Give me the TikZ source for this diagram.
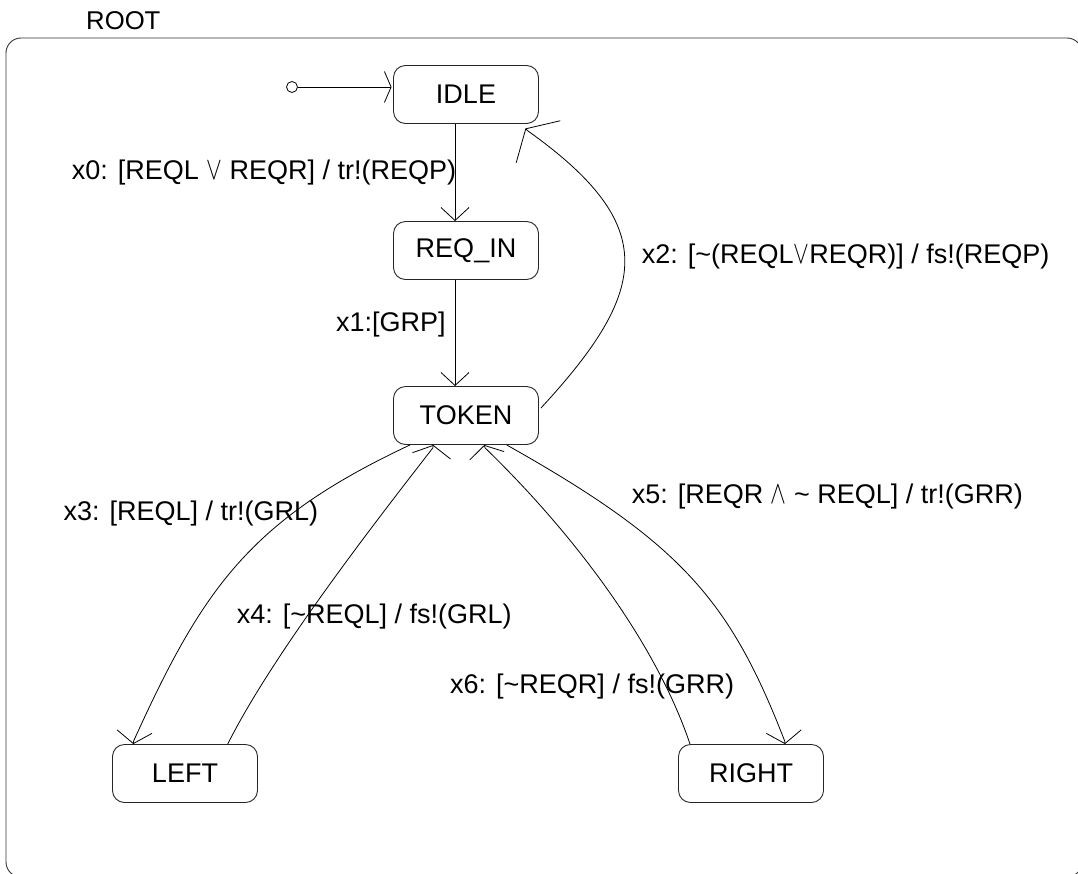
\documentclass[tikz,border=0pt]{standalone}
\usepackage{fontspec}
\setmainfont{Liberation Sans}
\usepackage{graphicx}
\usetikzlibrary{arrows.meta,calc}
\newcommand{\orsym}{\scalebox{0.95}[1.3]{$\vee$}}
\newcommand{\andsym}{\scalebox{0.95}[1.3]{$\wedge$}}
\newcommand{\tld}{\textasciitilde}
\begin{document}
\begin{tikzpicture}[x=1pt,y=-1pt,
  every node/.style={font=\fontsize{27}{30}\selectfont},
  stbox/.style={draw=black!85, line width=0.9pt, rounded corners=12pt, minimum width=145pt, minimum height=58pt, inner sep=0pt},
  lbl/.style={anchor=base west, inner sep=0pt},
  tr/.style={draw, line width=0.8pt},
  arr/.style 2 args={-{Straight Barb[length=#1pt,width=#2pt]}}
]
\useasboundingbox (0,0) rectangle (1078,873);
\begin{scope}
\clip (0,0) rectangle (1078,873);
\draw[draw=black!80, line width=0.9pt, rounded corners=15pt] (6,38) rectangle (1082,877);
\end{scope}
\node[lbl, font=\fontsize{25.7}{30}\selectfont] (rootlbl) at (86,29.3) {ROOT};

\node[stbox] (idle) at (466,94.5) {IDLE};
\node[stbox] (reqin) at (466,250.5) {REQ\_IN};
\node[stbox] (token) at (466,415.5) {TOKEN};
\node[stbox] (nleft) at (185,773.5) {LEFT};
\node[stbox] (nright) at (751,773.5) {RIGHT};
\node[circle, draw, line width=0.8pt, minimum size=11pt, inner sep=0pt] (init) at (292,87) {};

\draw[tr, arr={6.7}{31}] (init.east) -- ($(idle.west)+(-1.5,-7.5)$);
\draw[tr, arr={13}{28}] ($(idle.south)+(-11,0)$) -- ($(reqin.north)+(-11,0)$);
\draw[tr, arr={13}{28}] ($(reqin.south)+(-11,0)$) -- ($(token.north)+(-11,0)$);
\draw[tr, arr={18}{61}] ($(token.east)+(2,-7.5)$) .. controls (650,290) and (660,225) .. ($(idle.south east)+(-11.4,6.7)$) -- ($(idle.south east)+(-13.5,4.5)$);
\draw[tr, arr={12}{35}] ($(token.south)+(-56,0)$) .. controls (250,520) and (203,588) .. ($(nleft.north)+(-51.4,-3)$) -- ($(nleft.north)+(-51.7,0)$);
\draw[tr, arr={10.6}{38.6}] ($(nleft.north)+(42.7,0)$) .. controls (273,654) and (373,525) .. ($(token.south)+(-33.2,3)$) -- ($(token.south)+(-32.7,0)$);
\draw[tr, arr={12}{35}] ($(token.south)+(40.7,0)$) .. controls (681,543) and (730,600) .. ($(nright.north)+(33.7,-3)$) -- ($(nright.north)+(34,0)$);
\draw[tr, arr={10.6}{35.3}] ($(nright.north)+(-61,0)$) .. controls (655,640) and (570,530) .. ($(token.south)+(19,2.9)$) -- ($(token.south)+(18.3,0)$);

\node[lbl] (l0) at (71.7,179.3) {x0: [REQL \orsym{} REQR] / tr!(REQP)};
\node[lbl] (l1) at (336,331.7) {x1:[GRP]};
\node[lbl] (l2) at (641.7,263.3) {x2: [\tld(REQL\orsym REQR)] / fs!(REQP)};
\node[lbl] (l3) at (63.3,520.7) {x3: [REQL] / tr!(GRL)};
\node[lbl] (l4) at (236.7,623.3) {x4: [\tld REQL] / fs!(GRL)};
\node[lbl] (l5) at (631.7,503.3) {x5: [REQR \andsym{} \tld{} REQL] / tr!(GRR)};
\node[lbl] (l6) at (450,693.3) {x6: [\tld REQR] / fs!(GRR)};
\end{tikzpicture}
\end{document}
